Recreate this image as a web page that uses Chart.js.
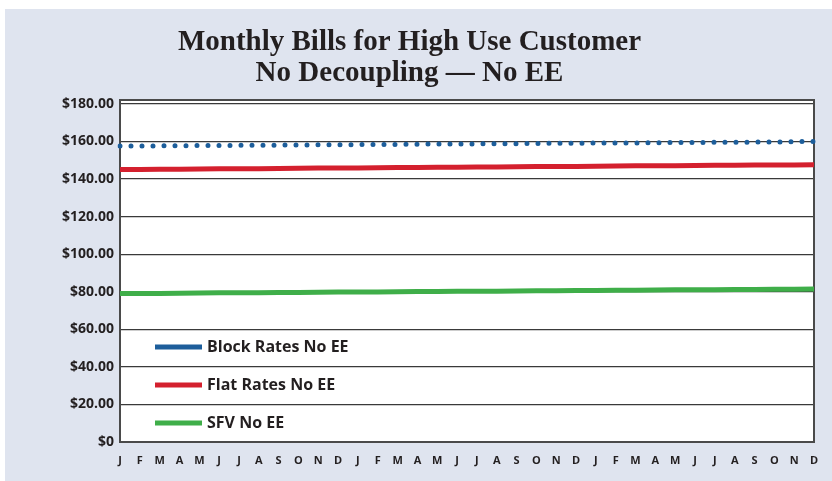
<!DOCTYPE html>
<html>
<head>
<meta charset="utf-8">
<script src="https://cdn.jsdelivr.net/npm/chart.js@4"></script>
<style>
  html, body { margin: 0; padding: 0; background: #ffffff; }
  #wrap { position: absolute; left: 5px; top: 9px; width: 827px; height: 472px; background: #dfe4ef; }
</style>
</head>
<body>
<div id="wrap"><canvas id="billChart" width="827" height="472"></canvas></div>
<script>
// months over three years
var months = ['J','F','M','A','M','J','J','A','S','O','N','D',
              'J','F','M','A','M','J','J','A','S','O','N','D',
              'J','F','M','A','M','J','J','A','S','O','N','D'];

var seriesNames = ['Block Rates No EE', 'Flat Rates No EE', 'SFV No EE'];

var blockRates = [157.5,157.6,157.6,157.7,157.8,157.8,157.9,158.0,158.0,158.1,158.2,158.2,
                  158.3,158.4,158.4,158.5,158.6,158.6,158.7,158.8,158.8,158.9,159.0,159.0,
                  159.1,159.2,159.2,159.3,159.4,159.4,159.5,159.6,159.6,159.7,159.8,160.0];
var flatRates = [145.0,145.1,145.2,145.2,145.3,145.4,145.5,145.5,145.6,145.7,145.8,145.8,
                 145.9,146.0,146.1,146.1,146.2,146.3,146.4,146.4,146.5,146.6,146.7,146.7,
                 146.8,146.9,147.0,147.0,147.1,147.2,147.3,147.3,147.4,147.5,147.5,147.6];
var sfv = [79.0,79.1,79.1,79.2,79.3,79.4,79.4,79.5,79.6,79.6,79.7,79.8,
           79.8,79.9,80.0,80.1,80.1,80.2,80.3,80.3,80.4,80.5,80.5,80.6,
           80.7,80.8,80.8,80.9,81.0,81.0,81.1,81.2,81.2,81.3,81.3,81.4];

var yTicks = [0, 20, 40, 60, 80, 100, 120, 140, 160, 180];

var colors = ['#1d5e9b', '#d4202e', '#3fae49'];

// legend sits inside the plot, lower left
var insideLegend = {
    id: 'insideLegend',
    afterDatasetsDraw: function (chart) {
        var ctx = chart.ctx, a = chart.chartArea;
        var offsets = [95, 57, 19];
        ctx.save();
        chart.data.datasets.forEach(function (ds, i) {
            var y = a.bottom - offsets[i];
            ctx.strokeStyle = colors[i];
            ctx.lineWidth = 5;
            ctx.beginPath();
            ctx.moveTo(a.left + 35, y);
            ctx.lineTo(a.left + 82, y);
            ctx.stroke();
            ctx.fillStyle = '#231f20';
            ctx.font = 'bold 16px "Open Sans"';
            ctx.textBaseline = 'middle';
            ctx.fillText(ds.label, a.left + 87, y);
        });
        ctx.restore();
    }
};

// plot frame (top and right edges)
var frame = {
    id: 'frame',
    beforeDatasetsDraw: function (chart) {
        var ctx = chart.ctx, a = chart.chartArea;
        ctx.save();
        ctx.strokeStyle = '#4a4a4a';
        ctx.lineWidth = 2;
        ctx.beginPath();
        ctx.moveTo(a.left, a.top);
        ctx.lineTo(a.right, a.top);
        ctx.lineTo(a.right, a.bottom);
        ctx.stroke();
        ctx.restore();
    }
};

// white plot background
var plotBg = {
    id: 'plotBg',
    beforeDraw: function (chart) {
        var ctx = chart.ctx, a = chart.chartArea;
        ctx.save();
        ctx.fillStyle = '#ffffff';
        ctx.fillRect(a.left, a.top, a.right - a.left, a.bottom - a.top);
        ctx.restore();
    }
};

var ctx = document.getElementById('billChart').getContext('2d');
window.billChart = new Chart(ctx, {
    type: 'line',
    data: {
        labels: months,
        datasets: [{
            label: seriesNames[0],
            data: blockRates,
            borderColor: colors[0],
            borderWidth: 5,
            borderDash: [0, 11],
            borderCapStyle: 'round',
            pointRadius: 0,
            tension: 0
        },
        {
            label: seriesNames[1],
            data: flatRates,
            borderColor: colors[1],
            borderWidth: 5,
            pointRadius: 0,
            tension: 0
        },
        {
            label: seriesNames[2],
            data: sfv,
            borderColor: colors[2],
            borderWidth: 5,
            pointRadius: 0,
            tension: 0
        }]
    },
    options: {
        responsive: false,
        animation: false,
        layout: { padding: { left: 0, right: 18, top: 0, bottom: 0 } },
        plugins: {
            legend: { display: false },
            tooltip: { enabled: false },
            title: {
                display: true,
                text: ['Monthly Bills for High Use Customer', 'No Decoupling \u2014 No EE'],
                color: '#231f20',
                font: { family: '"Liberation Serif"', size: 29, weight: 'bold', lineHeight: 1.07 },
                padding: { top: 18, bottom: 11 }
            }
        },
        scales: {
            x: {
                offset: false,
                grid: { display: false },
                border: { display: true, color: '#4a4a4a', width: 2 },
                ticks: {
                    autoSkip: false,
                    maxRotation: 0,
                    padding: 4,
                    color: '#231f20',
                    font: { family: '"Open Sans"', size: 11, weight: 'bold' }
                },
                afterFit: function (scale) { scale.height = 39; }
            },
            y: {
                min: 0,
                max: 182,
                afterBuildTicks: function (scale) {
                    scale.ticks = yTicks.map(function (v) { return { value: v }; });
                },
                grid: { color: '#3a3a3a', lineWidth: 1.2, drawTicks: false },
                border: { display: true, color: '#4a4a4a', width: 2 },
                ticks: {
                    padding: 6,
                    color: '#231f20',
                    font: { family: '"Open Sans"', size: 14, weight: 'bold' },
                    callback: function (v) { return v === 0 ? '$0' : '$' + v.toFixed(2); }
                },
                afterFit: function (scale) { scale.width = 115; }
            }
        }
    },
    plugins: [plotBg, frame, insideLegend]
});
</script>
</body>
</html>
